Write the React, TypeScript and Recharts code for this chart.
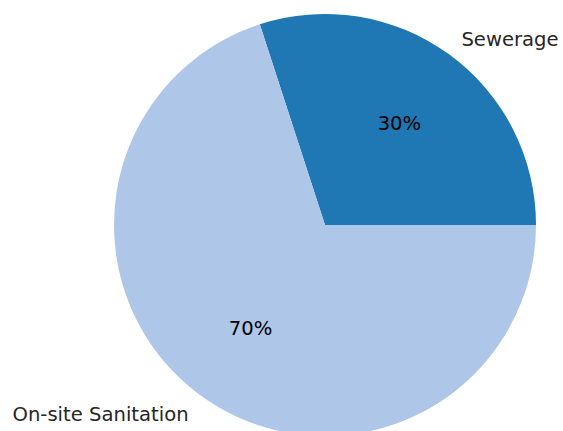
import React from "react";
import { PieChart, Pie, Cell } from "recharts";

const categories = ["Sewerage", "On-site Sanitation"];
const shares = [30, 70];
const colors = ["#1f77b4", "#aec7e8"];

const data = categories.map((name, i) => ({ name, value: shares[i] }));

const RAD = Math.PI / 180;

const renderLabel = (props: any) => {
  const { cx, cy, midAngle, outerRadius, index, percent } = props;
  const cos = Math.cos(-midAngle * RAD);
  const sin = Math.sin(-midAngle * RAD);
  const lx = cx + outerRadius * 1.1 * cos;
  const ly = cy + outerRadius * 1.1 * sin;
  const px = cx + outerRadius * 0.6 * cos;
  const py = cy + outerRadius * 0.6 * sin;
  return (
    <g>
      <text
        x={lx}
        y={ly}
        dy={2}
        textAnchor={cos >= 0 ? "start" : "end"}
        dominantBaseline="central"
        fill="#262626"
        fontSize={19.6}
        fontFamily="DejaVu Sans"
      >
        {categories[index]}
      </text>
      <text
        x={px}
        y={py}
        dy={1}
        textAnchor="middle"
        dominantBaseline="central"
        fill="#000"
        fontSize={19.6}
        fontFamily="DejaVu Sans"
      >
        {`${Math.round(percent * 100)}%`}
      </text>
    </g>
  );
};

export default function App() {
  return (
    <div style={{ position: "absolute", left: 0, top: 0, width: 563, height: 431, background: "#fff" }}>
      <PieChart width={563} height={431} margin={{ top: 0, right: 0, bottom: 0, left: 0 }} style={{ overflow: "hidden" }}>
        <Pie
          data={data}
          dataKey="value"
          nameKey="name"
          cx={325}
          cy={225}
          outerRadius={211}
          startAngle={0}
          endAngle={360}
          stroke="none"
          labelLine={false}
          label={renderLabel}
          isAnimationActive={false}
        >
          {data.map((d, i) => (
            <Cell key={d.name} fill={colors[i]} />
          ))}
        </Pie>
      </PieChart>
    </div>
  );
}
